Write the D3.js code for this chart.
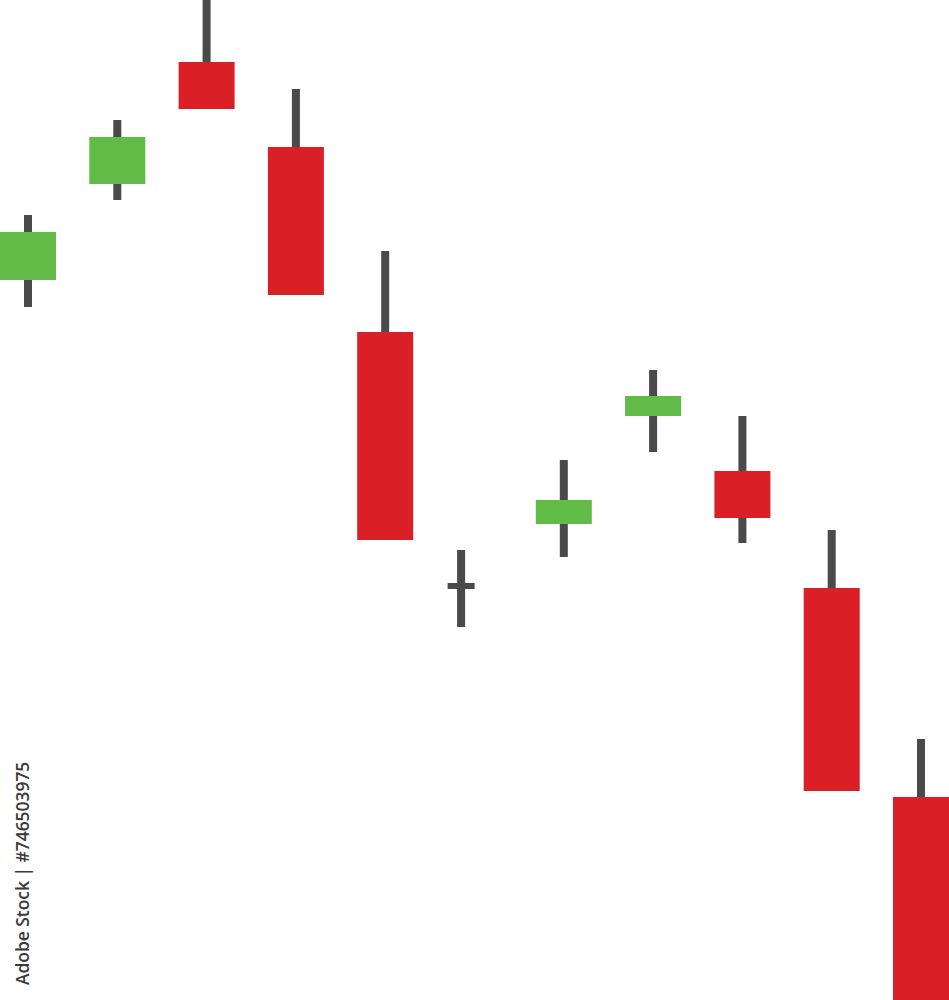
<!DOCTYPE html>
<html>
<head>
<meta charset="utf-8">
<script src="https://cdn.jsdelivr.net/npm/d3@7"></script>
<style>
  html, body { margin: 0; padding: 0; background: #ffffff; overflow: hidden; }
  svg { display: block; }
</style>
</head>
<body>
<svg id="chart" width="949" height="1000"></svg>
<script>
// ---- data (price units) ----
const positions = [0, 1, 2, 3, 4, 4.85, 6, 7, 8, 9, 10];
const opens  = [72.0, 81.6, 93.8, 85.3, 66.8, 41.4, 47.6, 58.4, 52.9, 41.2, 20.3];
const closes = [76.8, 86.3, 89.1, 70.5, 46.0, 41.4, 50.0, 60.4, 48.2, 20.9, -5.0];
const highs  = [78.5, 88.0, 102.0, 91.1, 74.9, 45.0, 54.0, 63.0, 58.4, 47.0, 26.1];
const lows   = [69.3, 80.0, 89.1, 70.5, 46.0, 37.3, 44.3, 54.8, 45.7, 20.9, -5.0];
const watermark = "Adobe Stock | #746503975";

const candles = positions.map((t, i) => ({
  t, open: opens[i], close: closes[i], high: highs[i], low: lows[i]
}));

const W = 949, H = 1000;
const svg = d3.select("#chart");

const x = d3.scaleLinear().domain([0, 10]).range([28, 921]);
const y = d3.scaleLinear().domain([0, 100]).range([H, 0]);

const bodyW = 56, wickW = 8, dojiW = 27, dojiH = 6;
const green = "#62bb47", red = "#da1f26", wick = "#4a4a4a";

const g = svg.append("g");

// wicks
g.selectAll("rect.wick").data(candles).join("rect")
  .attr("class", "wick")
  .attr("x", d => x(d.t) - wickW / 2)
  .attr("y", d => y(d.high))
  .attr("width", wickW)
  .attr("height", d => y(d.low) - y(d.high))
  .attr("fill", wick);

// bodies
g.selectAll("rect.body").data(candles).join("rect")
  .attr("class", "body")
  .attr("x", d => x(d.t) - (d.open === d.close ? dojiW : bodyW) / 2)
  .attr("y", d => d.open === d.close ? y(d.open) - dojiH / 2 : y(Math.max(d.open, d.close)))
  .attr("width", d => d.open === d.close ? dojiW : bodyW)
  .attr("height", d => d.open === d.close ? dojiH : Math.abs(y(d.open) - y(d.close)))
  .attr("fill", d => d.open === d.close ? wick : (d.close > d.open ? green : red));

// vertical watermark text
svg.append("text")
  .attr("transform", "translate(29,985) rotate(-90)")
  .attr("font-family", "'Open Sans', 'Noto Sans', sans-serif")
  .attr("font-size", 17.4)
  .attr("font-weight", 600)
  .attr("fill", "#3a3a3a")
  .text(watermark);
</script>
</body>
</html>
